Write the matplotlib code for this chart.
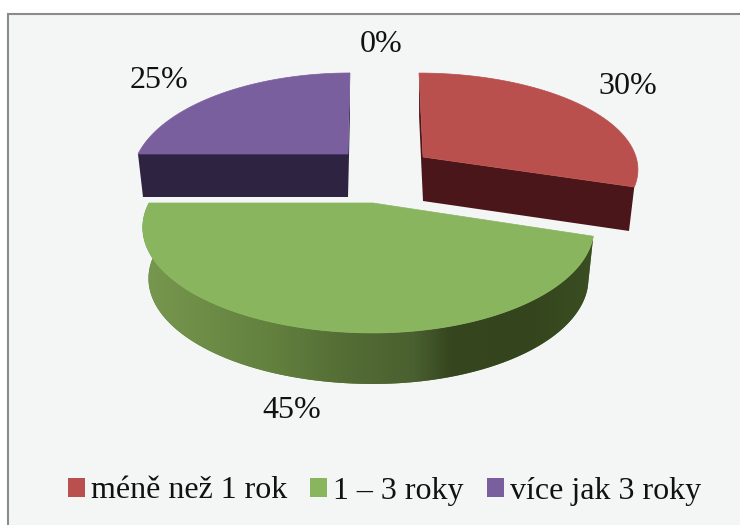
import matplotlib

matplotlib.use("Agg")
import matplotlib.pyplot as plt
import numpy as np
from matplotlib.colors import LinearSegmentedColormap
from matplotlib.patches import Patch, Polygon, Rectangle

categories = ["méně než 1 rok", "1 – 3 roky", "více jak 3 roky", ""]
shares = [30, 45, 25, 0]
top_colors = ["#b9504d", "#89b55f", "#7a5f9e", "#4f81bd"]
side_colors = ["#4a1619", "#5a7a38", "#2e2340", "#2c4770"]

# per slice: apex x, apex y, half width left, half width right, depth, flatten, perspective, lean
slice_geometry = [
    (423, 157, 213, 213, 44, 93.6, 0.115, -4),
    (373, 203, 224, 215, 51, 99.8, 0.232, 0),
    (348, 154, 210, 210, 43, 99.8, 0.232, 2),
    (385, 160, 210, 210, 43, 99.8, 0.232, 0),
]
label_positions = [(628, 86), (292, 410), (159, 81), (381, 45)]

TAPER = 0.975

green_stops = [
    (0.0, "#789850"),
    (0.12, "#6f8f48"),
    (0.3, "#627f3e"),
    (0.43, "#556f36"),
    (0.6, "#4a6030"),
    (0.68, "#36461f"),
    (0.85, "#34451d"),
    (1.0, "#3b4e22"),
]


def project(theta, geometry):
    # theta runs clockwise from 12 o'clock
    cx, cy, rx_left, rx_right, _, flatten, perspective, lean = geometry
    xs = np.sin(theta)
    ys = np.cos(theta)
    w = 1 + perspective * ys
    rx = np.where(xs < 0, rx_left, rx_right)
    return cx + rx * xs / w + lean * ys, cy - flatten * ys / w


def drop(x, y, geometry):
    # same outline moved down to the bottom of the disc
    return geometry[0] + (x - geometry[0]) * TAPER, y + geometry[4]


def draw_slice(ax, start, end, geometry, top_color, side_color, gradient=False):
    theta = np.linspace(start, end, 120)
    x, y = project(theta, geometry)
    bx, by = drop(x, y, geometry)
    apex = np.array([geometry[0], geometry[1]])
    bottom_apex = np.array(drop(apex[0], apex[1], geometry))

    if gradient:
        outer = np.column_stack([np.r_[x, bx[::-1]], np.r_[y, by[::-1]]])
        outer_patch = Polygon(outer, closed=True, fc=side_color, ec="none", zorder=2)
        ax.add_patch(outer_patch)
        cmap = LinearSegmentedColormap.from_list("side", green_stops)
        image = ax.imshow(
            np.linspace(0, 1, 256)[None, :],
            cmap=cmap,
            extent=(x.min() - 2, x.max() + 2, 525, 0),
            aspect="auto",
            zorder=2.1,
        )
        image.set_clip_path(outer_patch)
    else:
        # only the flat cut faces show on the two back slices
        for tx, ty, ux, uy in ((x[0], y[0], bx[0], by[0]), (x[-1], y[-1], bx[-1], by[-1])):
            face = [(tx, ty), apex, bottom_apex, (ux, uy)]
            ax.add_patch(Polygon(face, closed=True, fc=side_color, ec="none", zorder=2))

    top = np.vstack([apex, np.column_stack([x, y])])
    ax.add_patch(Polygon(top, closed=True, fc=top_color, ec=top_color, lw=0.5, zorder=3))


fig = plt.figure(figsize=(7.4, 5.25), dpi=100, facecolor="white")
ax = fig.add_axes([0, 0, 1, 1])
ax.set_xlim(0, 740)
ax.set_ylim(525, 0)
ax.axis("off")

# the frame runs off the right and bottom of the picture
ax.add_patch(Rectangle((8, 14), 760, 540, fc="#f4f6f5", ec="#8a8c8c", lw=1.5, zorder=0))

edges = np.cumsum([0] + shares) / sum(shares) * 2 * np.pi
order = [2, 0, 1]
for i in order:
    draw_slice(
        ax,
        edges[i],
        edges[i + 1],
        slice_geometry[i],
        top_colors[i],
        side_colors[i],
        gradient=categories[i] == "1 – 3 roky",
    )

for share, (lx, ly) in zip(shares, label_positions):
    ax.text(lx, ly, f"{share}%", family="Liberation Serif", fontsize=23, color="#111111",
            ha="center", va="center", zorder=5)

handles = [Patch(fc=c, ec="none") for c in top_colors[:3]]
ax.legend(
    handles,
    categories[:3],
    loc="center",
    bbox_to_anchor=(384.5, 491),
    bbox_transform=ax.transData,
    ncol=3,
    frameon=False,
    prop={"family": "Liberation Serif", "size": 23},
    handlelength=0.53,
    handleheight=0.53,
    handletextpad=0.19,
    columnspacing=0.72,
    labelcolor="#111111",
)

fig.savefig("out.png", dpi=100)
